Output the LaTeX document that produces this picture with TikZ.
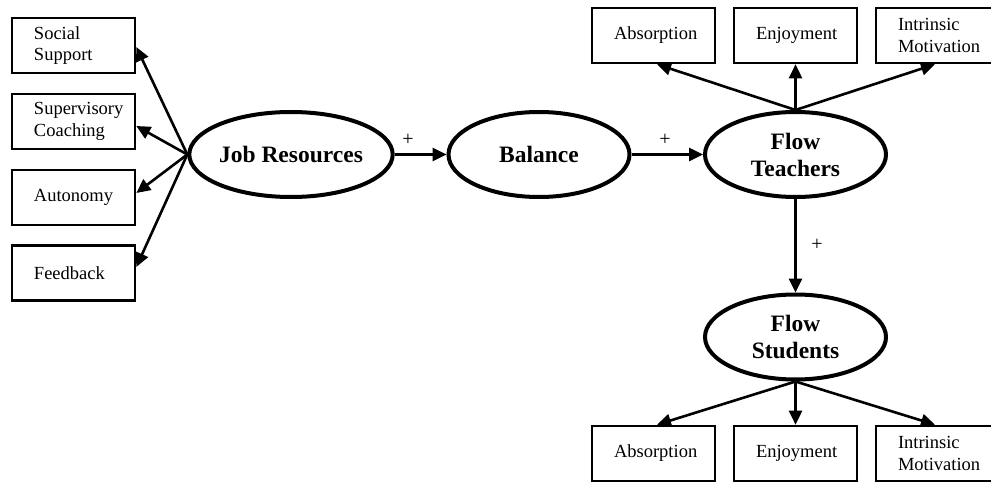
\documentclass[tikz,border=0pt]{standalone}
\usepackage{fontspec}
\setmainfont{Liberation Serif}
\usetikzlibrary{shapes.geometric,arrows.meta}
\begin{document}
\begin{tikzpicture}[x=1pt,y=-1pt,
  boxnode/.style={draw,line width=2.6pt,minimum width=123pt,minimum height=55pt,
    inner xsep=22pt,inner ysep=0pt,text width=79pt,align=left,
    font=\fontsize{18.5}{21.5}\selectfont},
  latent/.style={draw,ellipse,line width=4pt,minimum width=181pt,minimum height=85pt,
    inner sep=0pt,align=center,font=\fontsize{23.5}{27}\selectfont\bfseries},
  link/.style={line width=2.6pt,-{Triangle[length=14pt,width=13pt]}},
  plus/.style={font=\fontsize{20}{20}\selectfont,inner sep=0pt}]
\useasboundingbox (0,0) rectangle (991,484);
\clip (0,0) rectangle (991,484);
\fill[white] (0,0) rectangle (991,484);
% left indicators
\node[boxnode] (ss) at (73.5,45.5) {Social\\Support};
\node[boxnode] (sc) at (73.5,121.5) {Supervisory\\Coaching};
\node[boxnode] (au) at (73.5,197.5) {Autonomy};
\node[boxnode] (fb) at (73.5,273) {Feedback};
% latent variables
\node[latent] (jr) at (291,154.5) {Job Resources};
\node[latent] (bal) at (539,154.5) {Balance};
\node[latent] (ft) at (795.5,154.5) {Flow\\Teachers};
\node[latent] (fs) at (795.5,337) {Flow\\Students};
% top indicators
\node[boxnode] (ta) at (653.5,35.5) {Absorption};
\node[boxnode] (te) at (795.5,35.5) {Enjoyment};
\node[boxnode] (ti) at (937.5,35.5) {Intrinsic\\Motivation};
% bottom indicators
\node[boxnode] (ba) at (653.5,453.5) {Absorption};
\node[boxnode] (be) at (795.5,453.5) {Enjoyment};
\node[boxnode] (bi) at (937.5,453.5) {Intrinsic\\Motivation};
% job resources arrows
\draw[link] (jr.west) -- ([yshift=-1.5pt]ss.east);
\draw[link] (jr.west) -- ([yshift=-4.5pt]sc.east);
\draw[link] (jr.west) -- ([yshift=4.5pt]au.east);
\draw[link] (jr.west) -- ([yshift=6pt]fb.east);
% structural paths
\draw[link] (jr.east) -- (bal.west);
\draw[link] (bal.east) -- (ft.west);
\draw[link] (ft.south) -- (fs.north);
\node[plus] (p1) at (408,140) {+};
\node[plus] (p2) at (665,140) {+};
\node[plus] (p3) at (817,245) {+};
% flow teachers indicators
\draw[link] (ft.north) -- ([xshift=3.5pt]ta.south);
\draw[link] (ft.north) -- (te.south);
\draw[link] (ft.north) -- ([xshift=-2.5pt]ti.south);
% flow students indicators
\draw[link] (fs.south) -- ([xshift=3.5pt]ba.north);
\draw[link] (fs.south) -- (be.north);
\draw[link] (fs.south) -- ([xshift=-2.5pt]bi.north);
\end{tikzpicture}
\end{document}
